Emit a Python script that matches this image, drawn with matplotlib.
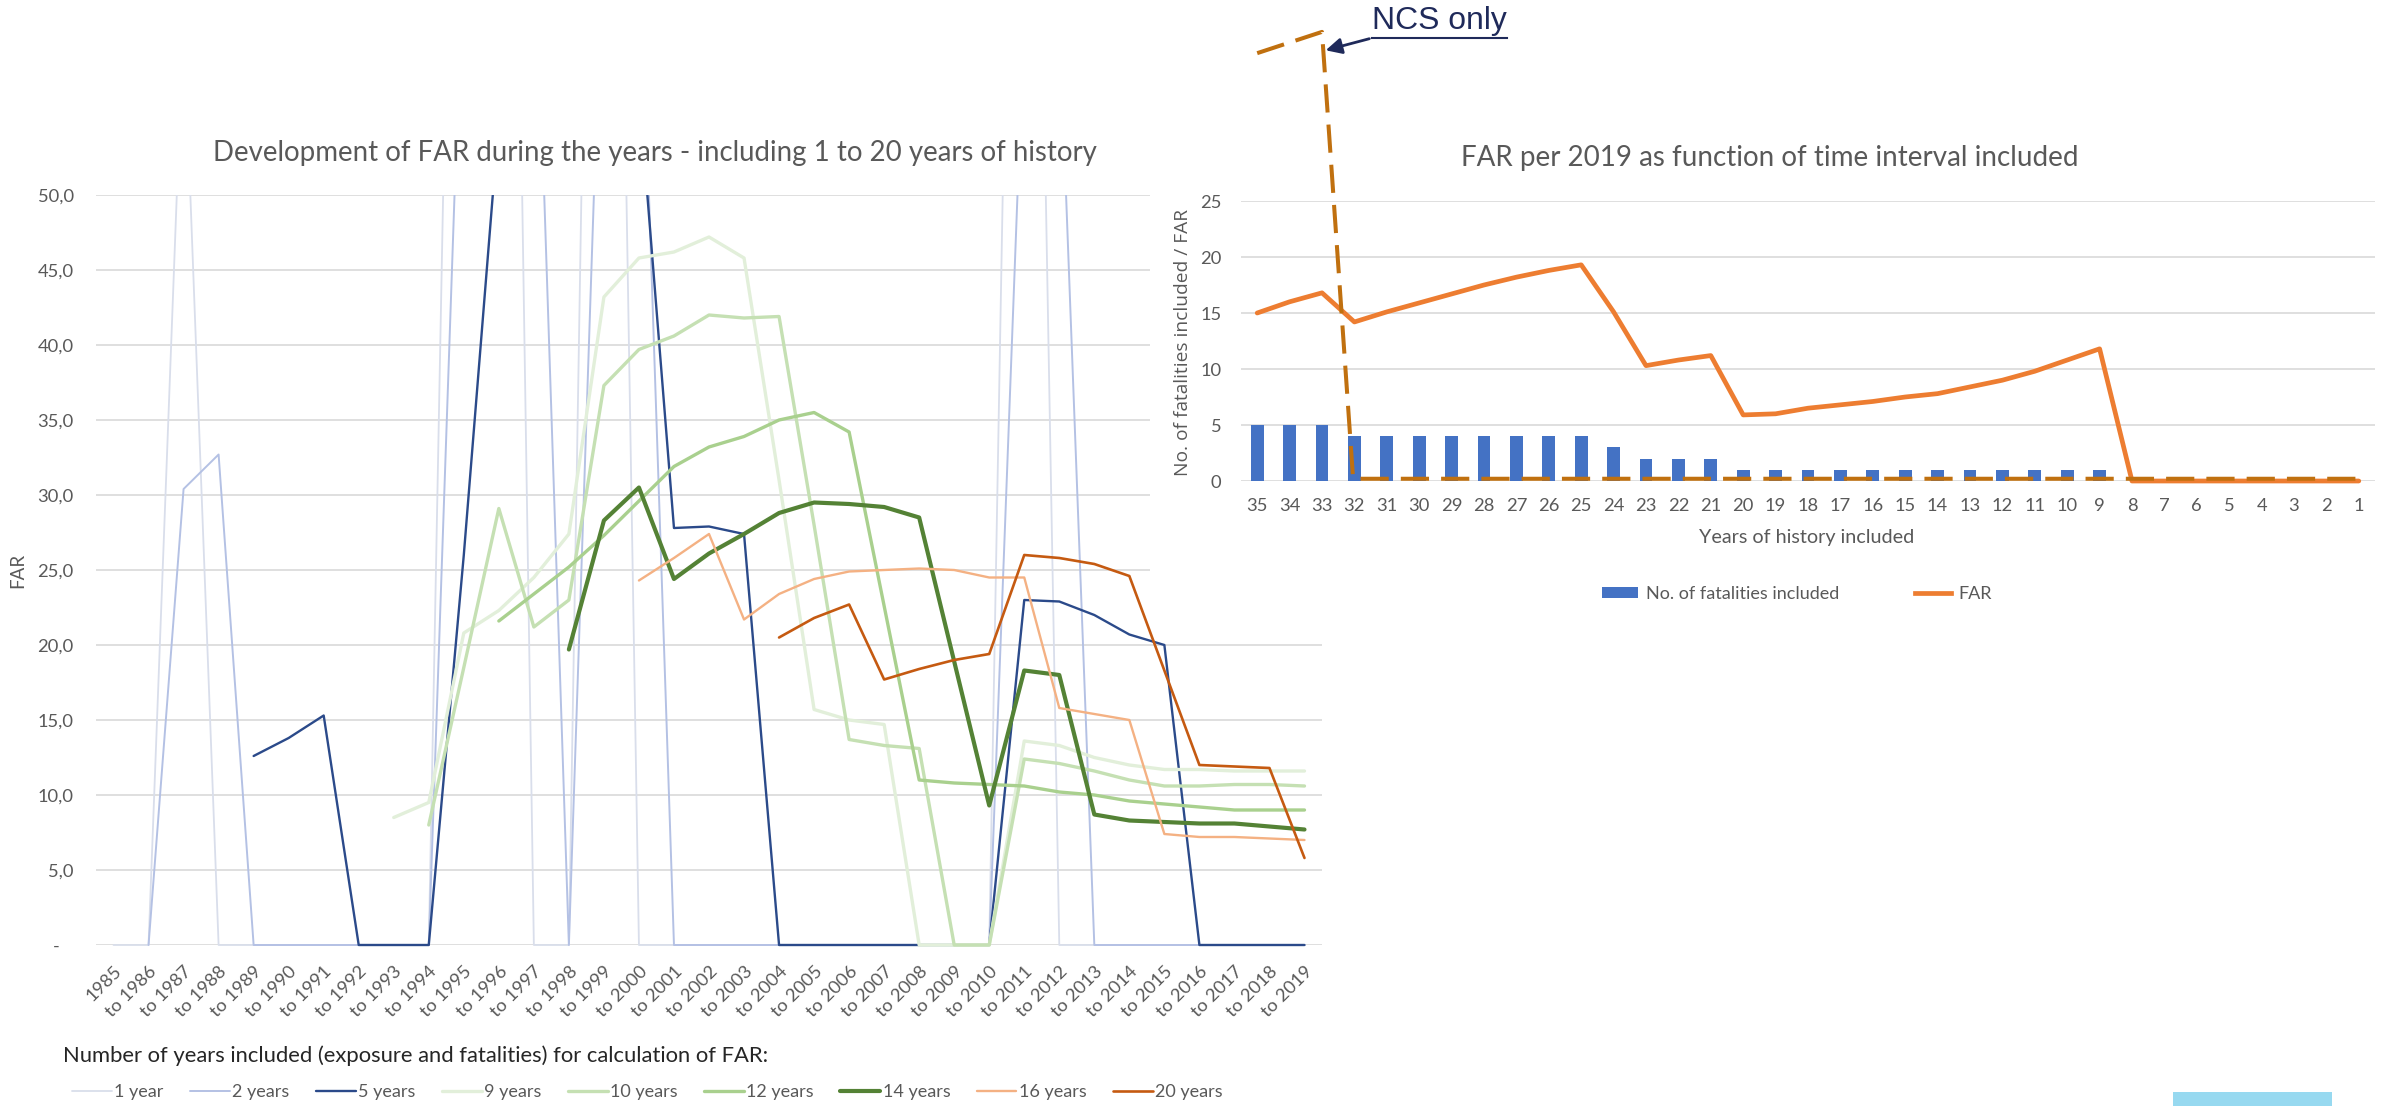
import numpy as np
import matplotlib
matplotlib.use("Agg")
import matplotlib.pyplot as plt
from matplotlib.lines import Line2D
from matplotlib.patches import Rectangle, FancyArrowPatch, Patch
from matplotlib.transforms import Bbox, TransformedBbox

nan = np.nan

# ---------------- data: left chart ----------------
periods = ["1985", "to 1986", "to 1987", "to 1988", "to 1989", "to 1990", "to 1991",
           "to 1992", "to 1993", "to 1994", "to 1995", "to 1996", "to 1997", "to 1998",
           "to 1999", "to 2000", "to 2001", "to 2002", "to 2003", "to 2004", "to 2005",
           "to 2006", "to 2007", "to 2008", "to 2009", "to 2010", "to 2011", "to 2012",
           "to 2013", "to 2014", "to 2015", "to 2016", "to 2017", "to 2018", "to 2019"]

far_1yr = [0, 0, 62, 0, 0, 0, 0, 0, 0, 0, 122, 150, 0, 0, 140, 0, 0, 0, 0, 0,
           0, 0, 0, 0, 0, 0, 130, 0, 0, 0, 0, 0, 0, 0, 0]
far_2yr = [nan, 0, 30.4, 32.7, 0, 0, 0, 0, 0, 0, 68, 130, 71, 0, 70, 70, 0, 0, 0, 0,
           0, 0, 0, 0, 0, 0, 62, 62, 0, 0, 0, 0, 0, 0, 0]
far_5yr = [nan, nan, nan, nan, 12.6, 13.8, 15.3, 0, 0, 0, 26, 55, 58, 60, 85, 57,
           27.8, 27.9, 27.4, 0, 0, 0, 0, 0, 0, 0, 23.0, 22.9, 22.0, 20.7, 20.0, 0, 0, 0, 0]
far_9yr = [nan, nan, nan, nan, nan, nan, nan, nan, 8.5, 9.5, 20.8, 22.3, 24.5, 27.4,
           43.2, 45.8, 46.2, 47.2, 45.8, 31.0, 15.7, 15.0, 14.7, 0, 0, 0, 13.6, 13.3,
           12.5, 12.0, 11.7, 11.7, 11.6, 11.6, 11.6]
far_10yr = [nan, nan, nan, nan, nan, nan, nan, nan, nan, 8.0, 18.5, 29.1, 21.2, 23.0,
            37.3, 39.7, 40.6, 42.0, 41.8, 41.9, 28.0, 13.7, 13.3, 13.1, 0, 0, 12.4, 12.1,
            11.6, 11.0, 10.6, 10.6, 10.7, 10.7, 10.6]
far_12yr = [nan, nan, nan, nan, nan, nan, nan, nan, nan, nan, nan, 21.6, 23.4, 25.2,
            27.3, 29.6, 31.9, 33.2, 33.9, 35.0, 35.5, 34.2, 22.6, 11.0, 10.8, 10.7, 10.6,
            10.2, 10.0, 9.6, 9.4, 9.2, 9.0, 9.0, 9.0]
far_14yr = [nan, nan, nan, nan, nan, nan, nan, nan, nan, nan, nan, nan, nan, 19.7, 28.3,
            30.5, 24.4, 26.1, 27.4, 28.8, 29.5, 29.4, 29.2, 28.5, 18.9, 9.3, 18.3, 18.0,
            8.7, 8.3, 8.2, 8.1, 8.1, 7.9, 7.7]
far_16yr = [nan, nan, nan, nan, nan, nan, nan, nan, nan, nan, nan, nan, nan, nan, nan,
            24.3, 25.8, 27.4, 21.7, 23.4, 24.4, 24.9, 25.0, 25.1, 25.0, 24.5, 24.5, 15.8,
            15.4, 15.0, 7.4, 7.2, 7.2, 7.1, 7.0]
far_20yr = [nan, nan, nan, nan, nan, nan, nan, nan, nan, nan, nan, nan, nan, nan, nan,
            nan, nan, nan, nan, 20.5, 21.8, 22.7, 17.7, 18.4, 19.0, 19.4, 26.0, 25.8, 25.4,
            24.6, 18.3, 12.0, 11.9, 11.8, 5.8]

series_labels = ["1 year", "2 years", "5 years", "9 years", "10 years", "12 years",
                 "14 years", "16 years", "20 years"]
left_yticks = [0, 5, 10, 15, 20, 25, 30, 35, 40, 45, 50]
left_yticklabels = ["-   ", "5,0", "10,0", "15,0", "20,0", "25,0", "30,0", "35,0",
                    "40,0", "45,0", "50,0"]

# ---------------- data: right chart ----------------
years_included = ["35", "34", "33", "32", "31", "30", "29", "28", "27", "26", "25", "24",
                  "23", "22", "21", "20", "19", "18", "17", "16", "15", "14", "13", "12",
                  "11", "10", "9", "8", "7", "6", "5", "4", "3", "2", "1"]
fatalities_included = [5, 5, 5, 4, 4, 4, 4, 4, 4, 4, 4, 3, 2, 2, 2, 1, 1, 1, 1, 1, 1, 1,
                       1, 1, 1, 1, 1, 0, 0, 0, 0, 0, 0, 0, 0]
far_per_2019 = [15.0, 16.0, 16.8, 14.2, 15.1, 15.9, 16.7, 17.5, 18.2, 18.8, 19.3, 15.1,
                10.3, 10.8, 11.2, 5.9, 6.0, 6.5, 6.8, 7.1, 7.5, 7.8, 8.4, 9.0, 9.8, 10.8,
                11.8, 0, 0, 0, 0, 0, 0, 0, 0]
right_yticks = [0, 5, 10, 15, 20, 25]

# "NCS only" bracket annotation (right-axes data coordinates)
ncs_x = [0.0, 2.0, 2.96, 34.1]
ncs_y = [38.2, 40.1, 0.2, 0.2]

# ---------------- styling ----------------
W, H, DPI = 2382, 1106, 100
FONT = ["Lato", "DejaVu Sans"]
GRAY = "#595959"
GRID = "#d9d9d9"
series_colors = ["#d9deeb", "#b4c1e4", "#2b4a8a", "#e2efda", "#c5e0b3", "#a9d08e",
                 "#548235", "#f4b183", "#c55a11"]
series_lw = [1.3, 1.4, 1.7, 2.4, 2.4, 2.4, 3.0, 1.7, 1.9]
series_data = [far_1yr, far_2yr, far_5yr, far_9yr, far_10yr, far_12yr, far_14yr,
               far_16yr, far_20yr]

plt.rcParams["font.family"] = FONT


def fx(px):
    return px / W


def fy(py):
    return 1 - py / H


fig = plt.figure(figsize=(W / DPI, H / DPI), dpi=DPI)
fig.patch.set_facecolor("white")

# ---------------- left chart ----------------
axL = fig.add_axes([fx(96), fy(945), (1322 - 96) / W, (945 - 195) / H])
axL.set_zorder(0)
x = np.arange(len(periods))
clipbox = TransformedBbox(Bbox([[0, -0.03], [1, 1]]), axL.transAxes)
handles = []
for lab, data, col, lw in zip(series_labels, series_data, series_colors, series_lw):
    ln, = axL.plot(x, data, color=col, lw=lw, label=lab,
                   solid_joinstyle="round", solid_capstyle="round")
    ln.set_clip_box(clipbox)
    handles.append(ln)
axL.set_xlim(-0.5, len(periods) - 0.5)
axL.set_ylim(0, 50)
axL.set_yticks(left_yticks)
axL.set_yticklabels(left_yticklabels)
axL.set_xticks(x)
axL.set_xticklabels(periods, rotation=45, ha="right", va="top", rotation_mode="anchor")
axL.tick_params(axis="x", length=0, pad=13, labelsize=13.2, labelcolor=GRAY)
axL.tick_params(axis="y", length=0, pad=16, labelsize=13.2, labelcolor=GRAY)
axL.grid(axis="y", color=GRID, lw=1.2)
axL.set_axisbelow(True)
for s in axL.spines.values():
    s.set_visible(False)

fig.text(fx(18), fy(570), "FAR", rotation=90, ha="center", va="center",
         fontsize=13.5, color=GRAY)

t_left = fig.text(fx(655), fy(161), "Development of FAR during the years - including 1 to 20 years of history",
                  ha="center", va="baseline", fontsize=18, color=GRAY)

t_legtitle = fig.text(fx(63), fy(1062), "Number of years included (exposure and fatalities) for calculation of FAR:",
                      ha="left", va="baseline", fontsize=14, color="#262626")

leg = fig.legend(handles=handles, labels=series_labels, ncol=9, loc="center left",
                 bbox_to_anchor=(fx(72), fy(1092)), frameon=False, fontsize=13.0,
                 handlelength=2.2, handletextpad=0.15, columnspacing=1.45,
                 borderpad=0, borderaxespad=0)
for t in leg.get_texts():
    t.set_color(GRAY)

# white cover behind right chart
fig.add_artist(Rectangle((fx(1150), fy(615)), (W - 1150) / W, 615 / H,
                         transform=fig.transFigure, facecolor="white",
                         edgecolor="none", zorder=0.5))

# ---------------- right chart ----------------
axR = fig.add_axes([fx(1241), fy(481), (2375 - 1241) / W, (481 - 201) / H])
axR.set_zorder(1)
axR.patch.set_visible(False)
xr = np.arange(len(years_included))
bars = axR.bar(xr, fatalities_included, width=0.4, color="#4472c4", zorder=2,
               label="No. of fatalities included")
farline, = axR.plot(xr, far_per_2019, color="#ed7d31", lw=3.4, zorder=3,
                    solid_joinstyle="round", solid_capstyle="round", clip_on=False,
                    label="FAR")
axR.plot(ncs_x, ncs_y, color="#c0700f", lw=2.9, dashes=(7, 3), zorder=6,
         clip_on=False, dash_capstyle="butt")
axR.set_xlim(-0.5, len(years_included) - 0.5)
axR.set_ylim(0, 25)
axR.set_yticks(right_yticks)
axR.set_xticks(xr)
axR.set_xticklabels(years_included)
axR.tick_params(axis="x", length=0, pad=12, labelsize=13.2, labelcolor=GRAY)
axR.tick_params(axis="y", length=0, pad=14, labelsize=13.2, labelcolor=GRAY)
axR.grid(axis="y", color=GRID, lw=1.2)
axR.set_axisbelow(True)
for s in axR.spines.values():
    s.set_visible(False)

t_right = fig.text(fx(1770), fy(166), "FAR per 2019 as function of time interval included",
                   ha="center", va="baseline", fontsize=18, color=GRAY)
t_rylab = fig.text(fx(1183), fy(342), "No. of fatalities included / FAR", rotation=90,
                   ha="center", va="center", fontsize=13, color=GRAY,
                   family=["Open Sans", "DejaVu Sans"])
t_rxlab = fig.text(fx(1807), fy(537), "Years of history included", ha="center",
                   va="center", fontsize=13, color=GRAY)

legR = fig.legend(handles=[Patch(facecolor="#4472c4"),
                           Line2D([], [], color="#ed7d31", lw=3.4)],
                  labels=["No. of fatalities included", "FAR"], ncol=2, loc="center",
                  bbox_to_anchor=(fx(1797), fy(594)), frameon=False, fontsize=13,
                  handlelength=2.0, handleheight=0.5, handletextpad=0.4,
                  columnspacing=4.2, borderpad=0)
for t in legR.get_texts():
    t.set_color(GRAY)

# "NCS only" annotation
NAVY = "#1f2a5a"
t_ncs = fig.text(fx(1372), fy(29.5), "NCS only", ha="left", va="baseline",
                 fontsize=22.8, color=NAVY, family=["Liberation Sans", "DejaVu Sans"])
fig.add_artist(Line2D([fx(1372), fx(1507)], [fy(38), fy(38)], transform=fig.transFigure,
                      color=NAVY, lw=1.5))
fig.add_artist(FancyArrowPatch((fx(1372), fy(38)), (fx(1323), fy(51)),
                               transform=fig.transFigure, arrowstyle="-|>",
                               mutation_scale=24, lw=2, color=NAVY))

# light blue block at bottom right
fig.add_artist(Rectangle((fx(2173), 0), (2332 - 2173) / W, 14 / H,
                         transform=fig.transFigure, facecolor="#97d9f0",
                         edgecolor="none"))

# fit text widths to the reference
renderer = fig.canvas.get_renderer()


def fit(t, target, use_height=False):
    bb = t.get_window_extent(renderer)
    cur = bb.height if use_height else bb.width
    t.set_fontsize(t.get_fontsize() * target / cur)


fit(t_left, 879)
fit(t_right, 613)
fit(t_legtitle, 709)
fit(t_rylab, 265, use_height=True)
fit(t_rxlab, 215)
fit(t_ncs, 135)

fig.savefig("out.png", dpi=DPI, facecolor="white")
